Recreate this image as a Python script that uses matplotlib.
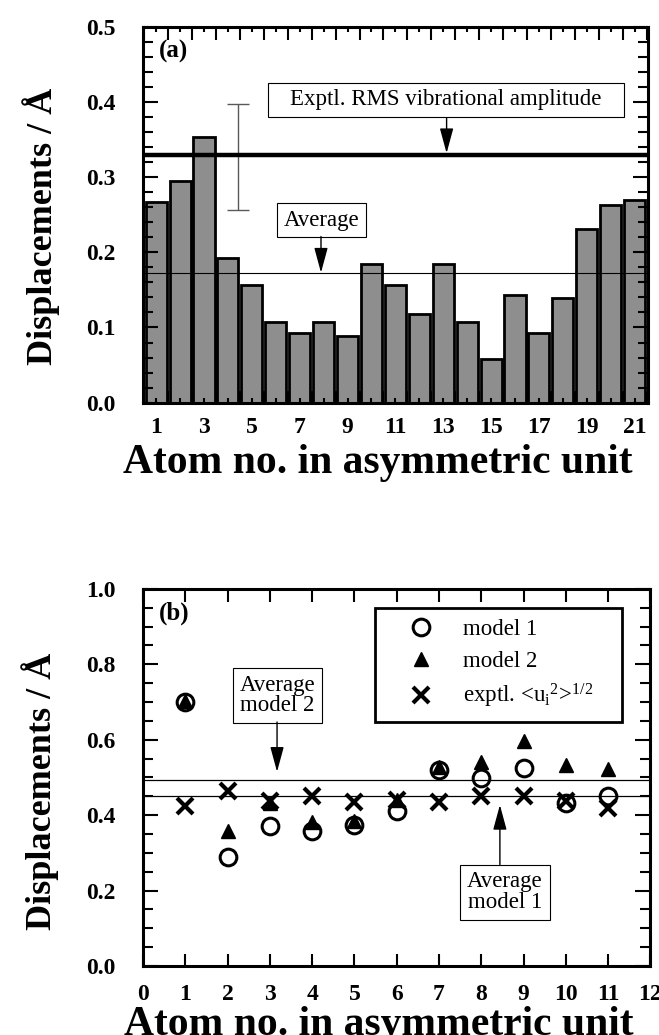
import numpy as np
import matplotlib
matplotlib.use("Agg")
import matplotlib.pyplot as plt
from matplotlib.ticker import MultipleLocator, FixedLocator
from matplotlib.patches import Rectangle

plt.rcParams['font.family'] = ['Liberation Serif', 'DejaVu Serif']
plt.rcParams['mathtext.fontset'] = 'custom'
plt.rcParams['mathtext.rm'] = 'Liberation Serif'
plt.rcParams['mathtext.it'] = 'Liberation Serif:italic'
plt.rcParams['mathtext.bf'] = 'Liberation Serif:bold'

# panel (a) data
atoms_a = np.arange(1, 22)
disp_a = [0.267, 0.295, 0.353, 0.192, 0.157, 0.107, 0.093, 0.107, 0.089, 0.185, 0.157,
          0.118, 0.185, 0.107, 0.058, 0.143, 0.093, 0.139, 0.231, 0.263, 0.270]
rms_exptl = 0.329
avg_a = 0.172
err_x = 4.42
err_lo, err_hi = 0.257, 0.398

# panel (b) data
atoms_b = np.arange(1, 12)
model1 = [0.699, 0.288, 0.370, 0.359, 0.374, 0.410, 0.519, 0.498, 0.525, 0.432, 0.451]
model2 = [0.703, 0.357, 0.432, 0.383, 0.385, 0.440, 0.527, 0.540, 0.596, 0.534, 0.522]
exptl = [0.423, 0.463, 0.438, 0.451, 0.434, 0.440, 0.436, 0.451, 0.451, 0.437, 0.419]
avg_model1 = 0.451
avg_model2 = 0.494

fig = plt.figure(figsize=(6.59, 10.35), dpi=100)
ax1 = fig.add_axes([0.217, 0.611, 0.766, 0.363])
ax2 = fig.add_axes([0.217, 0.0667, 0.770, 0.3643])

tick_font = dict(fontsize=17, fontweight='bold')
xlabel_font = dict(fontsize=30, fontweight='bold')
ylabel_font = dict(fontsize=26, fontweight='bold')
box = dict(boxstyle='square,pad=0.3', fc='white', ec='black', lw=0.8)
arrow = dict(arrowstyle='-|>,head_length=0.7,head_width=0.19', mutation_scale=22,
             lw=1.0, color='black', shrinkA=0, shrinkB=0)

# ---- panel (a)
ax1.bar(atoms_a, disp_a, width=0.88, color='#8e8e8e', edgecolor='black', linewidth=2.0, zorder=1)
ax1.axhline(rms_exptl, color='black', lw=3.2, zorder=3)
ax1.axhline(avg_a, color='black', lw=0.8, zorder=3)
ax1.errorbar([err_x], [(err_lo + err_hi) / 2], yerr=[[(err_hi - err_lo) / 2]], fmt='none',
             ecolor='0.35', elinewidth=1.0, capsize=8, capthick=1.0)

# label box for the experimental RMS line
ax1.add_patch(Rectangle((5.67, 0.3803), 14.88, 0.0452, fc='white', ec='black', lw=0.8, zorder=4))
ax1.text(13.11, 0.403, 'Exptl. RMS vibrational amplitude', fontsize=16.5,
         ha='center', va='center', zorder=5)
ax1.annotate('', xy=(13.14, rms_exptl + 0.003), xytext=(13.14, 0.380), arrowprops=arrow)
ax1.text(7.9, 0.243, 'Average', fontsize=16.5, ha='center', va='center', bbox=box)
ax1.annotate('', xy=(7.89, avg_a + 0.001), xytext=(7.89, 0.221), arrowprops=arrow)
ax1.text(0.032, 0.935, '(a)', transform=ax1.transAxes, fontsize=18, fontweight='bold',
         ha='left', va='center')

ax1.set_xlim(0.45, 21.55)
ax1.set_ylim(0, 0.5)
ax1.xaxis.set_major_locator(FixedLocator(atoms_a))
ax1.set_xticklabels([str(i) if i % 2 == 1 else '' for i in atoms_a], **tick_font)
ax1.xaxis.set_minor_locator(FixedLocator(np.arange(0.5, 22, 1.0)))
ax1.set_yticks(np.arange(0, 0.51, 0.1))
ax1.set_yticklabels([f'{v:.1f}' for v in np.arange(0, 0.51, 0.1)], **tick_font)
ax1.yaxis.set_minor_locator(MultipleLocator(0.02))
ax1.tick_params(axis='x', which='major', direction='in', length=3.5, width=1.5,
                top=True, pad=10)
ax1.tick_params(axis='x', which='minor', direction='in', length=9, width=1.5, top=True)
ax1.tick_params(axis='y', which='major', direction='in', length=11, width=1.5,
                right=True, pad=20)
ax1.tick_params(axis='y', which='minor', direction='in', length=7, width=1.5, right=True)
ax1.set_xlabel('Atom no. in asymmetric unit', **xlabel_font)
ax1.set_ylabel('Displacements / Å', **ylabel_font)
ax1.xaxis.set_label_coords(0.465, -0.11)
ax1.yaxis.set_label_coords(-0.165, 0.468)

# ---- panel (b)
ax2.axhline(avg_model2, color='black', lw=0.9)
ax2.axhline(avg_model1, color='black', lw=0.9)
ax2.plot(atoms_b, model1, 'o', ms=12, mfc='none', mec='black', mew=2.2, label='model 1')
ax2.plot(atoms_b, model2, '^', ms=10, color='black', label='model 2')
ax2.plot(atoms_b, exptl, 'x', ms=11, color='black', mew=3.0,
         label=r'exptl. <u$_{\rm i}$$^2$>$^{1/2}$')

ax2.text(3.18, 0.717, 'Average\nmodel 2', fontsize=16.5, ha='center', va='center',
         linespacing=0.95, bbox=box)
ax2.annotate('', xy=(3.17, 0.515), xytext=(3.17, 0.647), arrowprops=arrow)
ax2.text(8.56, 0.196, 'Average\nmodel 1', fontsize=16.5, ha='center', va='center',
         linespacing=0.95, bbox=box)
ax2.annotate('', xy=(8.44, 0.427), xytext=(8.44, 0.269), arrowprops=arrow)
ax2.text(0.032, 0.935, '(b)', transform=ax2.transAxes, fontsize=18, fontweight='bold',
         ha='left', va='center')

leg = ax2.legend(loc='upper left', bbox_to_anchor=(0.457, 0.5, 0.487, 0.45), mode='expand',
                 fontsize=16.5, frameon=True, fancybox=False, edgecolor='black',
                 framealpha=1, borderpad=0.5, labelspacing=0.45, handlelength=3.0,
                 handletextpad=0.35, borderaxespad=0)
leg.get_frame().set_linewidth(2.0)

ax2.set_xlim(0, 12)
ax2.set_ylim(0, 1.0)
ax2.set_xticks(np.arange(0, 13))
ax2.set_xticklabels([str(i) for i in range(13)], **tick_font)
ax2.set_yticks(np.arange(0, 1.01, 0.2))
ax2.set_yticklabels([f'{v:.1f}' for v in np.arange(0, 1.01, 0.2)], **tick_font)
ax2.yaxis.set_minor_locator(MultipleLocator(0.05))
ax2.tick_params(axis='x', which='major', direction='in', length=9, width=1.5,
                top=True, pad=13)
ax2.tick_params(axis='y', which='major', direction='in', length=11, width=1.5,
                right=True, pad=20)
ax2.tick_params(axis='y', which='minor', direction='in', length=7, width=1.5, right=True)
ax2.set_xlabel('Atom no. in asymmetric unit', **xlabel_font)
ax2.set_ylabel('Displacements / Å', **ylabel_font)
ax2.xaxis.set_label_coords(0.465, -0.106)
ax2.yaxis.set_label_coords(-0.165, 0.462)

for ax in (ax1, ax2):
    for sp in ax.spines.values():
        sp.set_linewidth(2.2)

fig.savefig('out.png', dpi=100)
